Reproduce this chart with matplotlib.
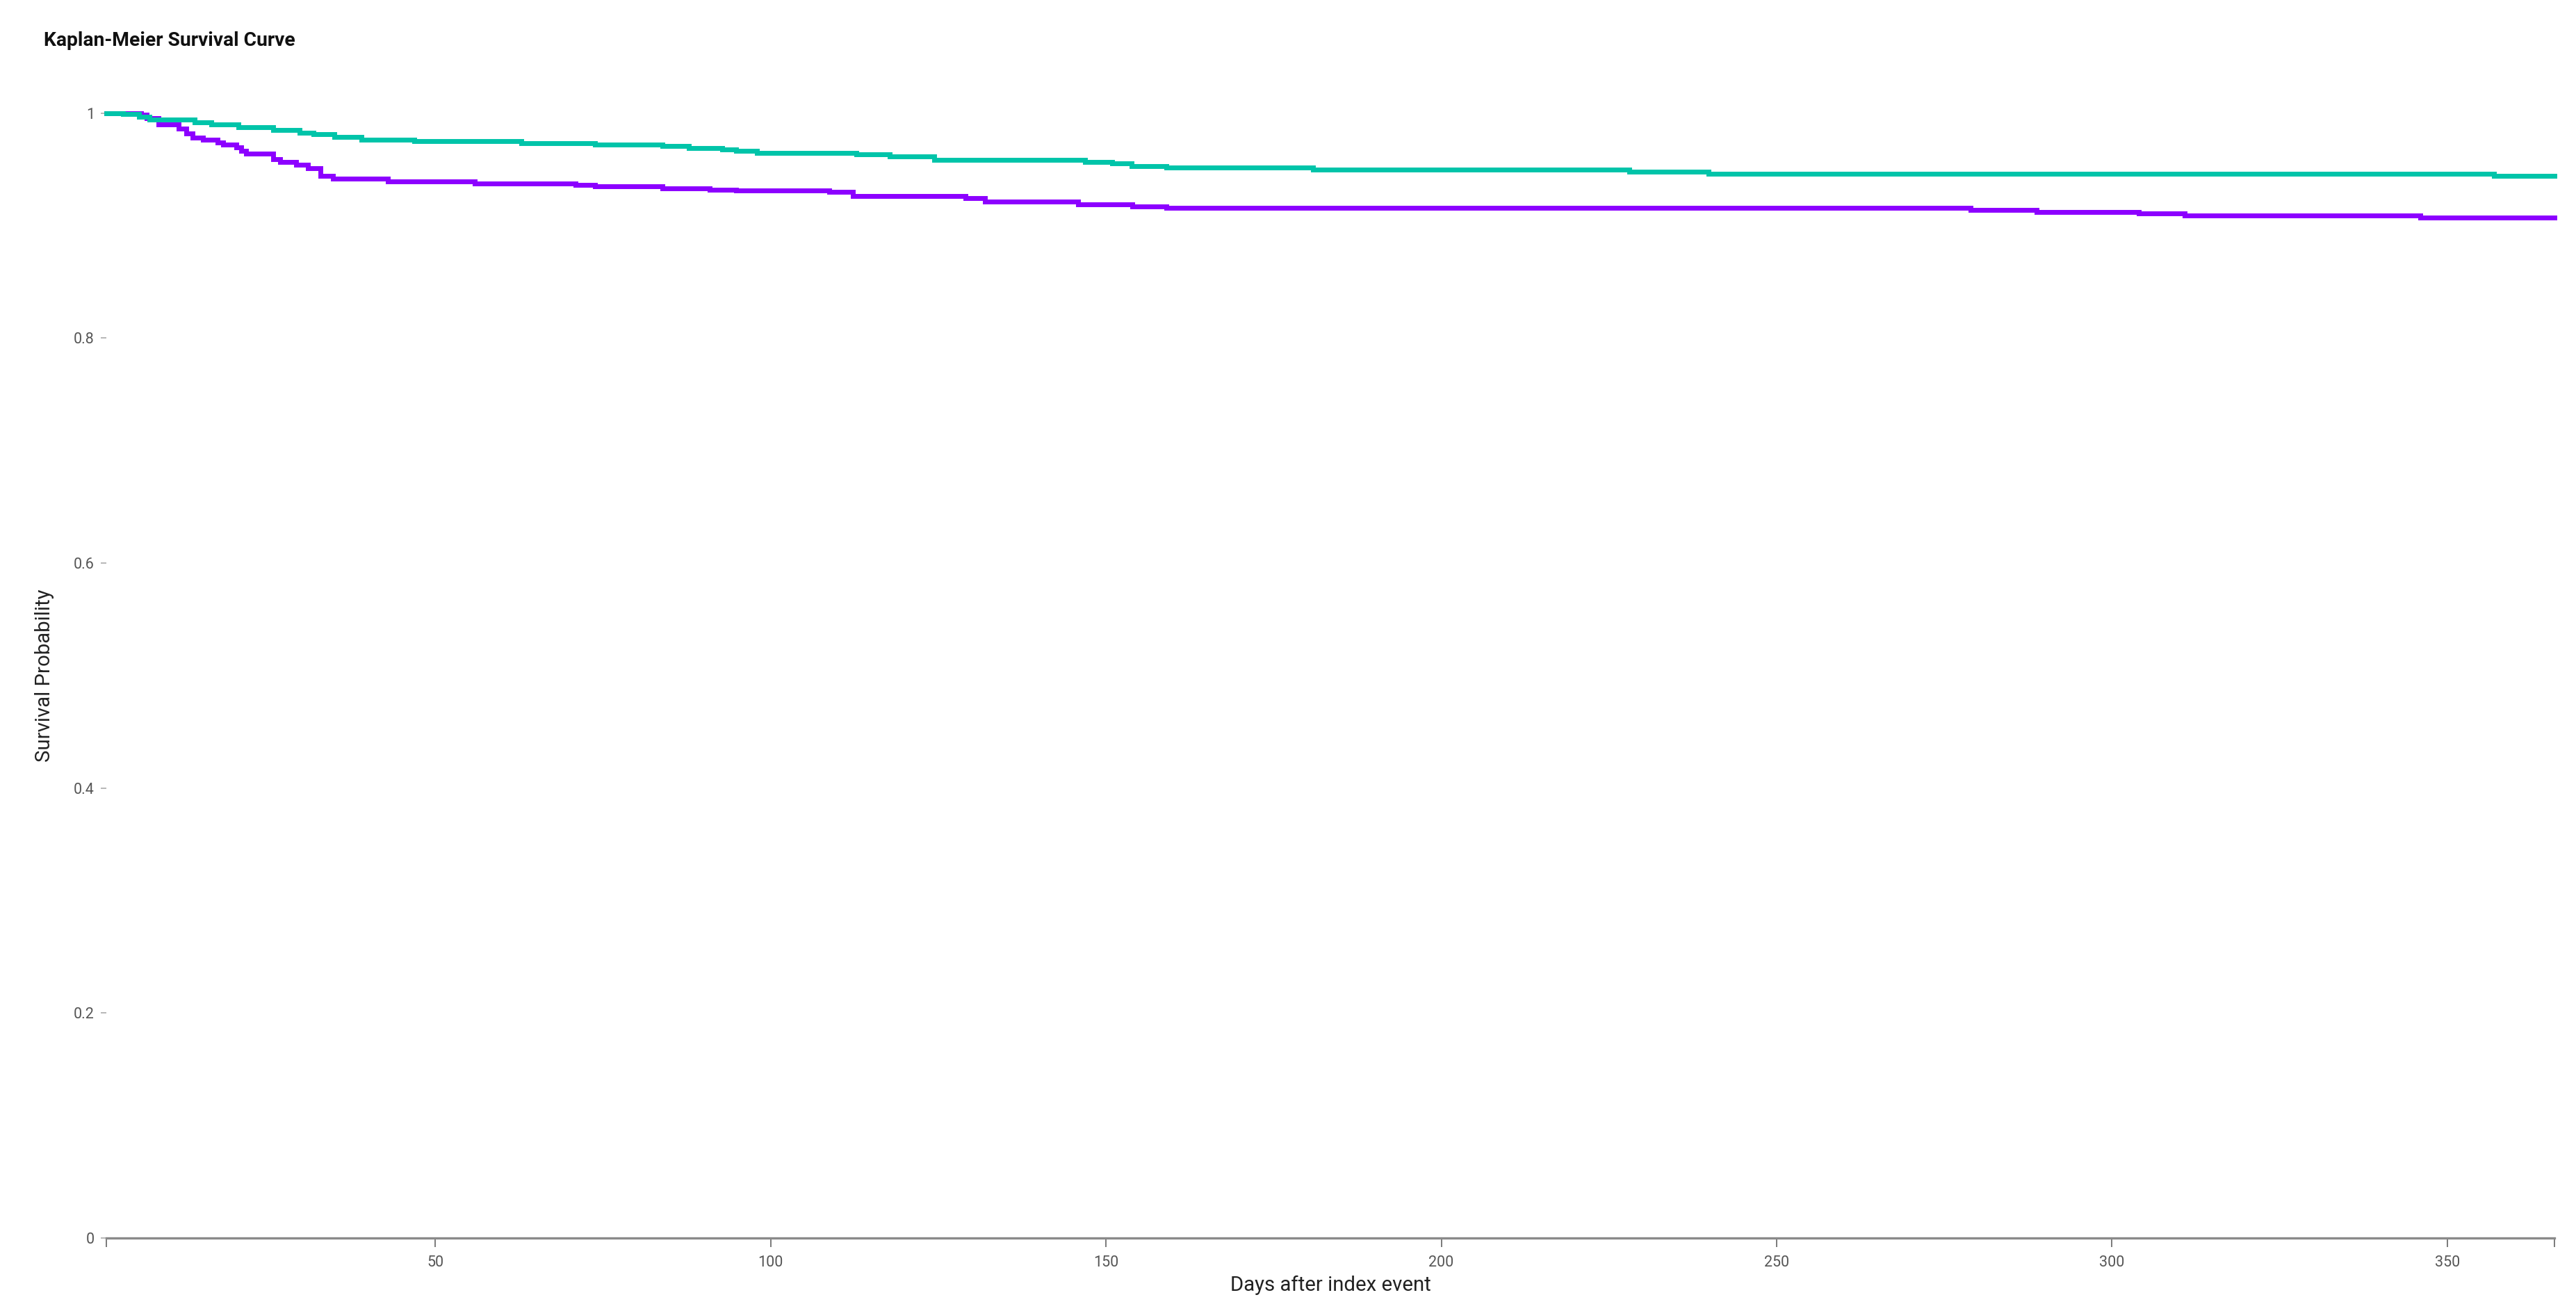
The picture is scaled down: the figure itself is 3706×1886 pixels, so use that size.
import matplotlib
matplotlib.use("Agg")
import matplotlib.pyplot as plt

# ---- data ----
teal_days = [1, 3.5, 5.8, 7.4, 14.1, 16.6, 20.7, 25.8, 29.8, 31.9, 35.0, 39.0, 46.9,
             62.8, 73.8, 83.9, 87.8, 92.8, 94.9, 98.0, 112.8, 117.8, 124.4, 146.9,
             150.9, 153.8, 159.0, 180.9, 228.0, 239.8, 357.0, 366]
teal_surv = [1.0, 0.999, 0.9965, 0.9944, 0.9918, 0.9897, 0.9872, 0.9848, 0.9827, 0.981,
             0.9786, 0.9765, 0.9749, 0.9734, 0.972, 0.9705, 0.9687, 0.9674, 0.9662,
             0.9646, 0.9632, 0.9615, 0.9584, 0.9567, 0.9551, 0.953, 0.9514, 0.9497,
             0.9477, 0.946, 0.944, 0.944]

purple_days = [1, 6.1, 7.0, 8.7, 11.7, 12.9, 13.8, 15.4, 17.5, 18.4, 20.3, 21.1, 21.8,
               25.8, 26.9, 29.3, 31.0, 32.9, 34.8, 42.9, 55.9, 70.9, 73.8, 83.9, 90.9,
               94.9, 108.8, 112.3, 129.1, 132.0, 145.9, 153.9, 159.0, 278.9, 288.8,
               304.0, 310.8, 346.0, 366]
purple_surv = [1.0, 0.9986, 0.9955, 0.9897, 0.9862, 0.9821, 0.978, 0.9763, 0.9738, 0.9718,
               0.9697, 0.9666, 0.9639, 0.9588, 0.9563, 0.9543, 0.9512, 0.944, 0.9419,
               0.9394, 0.9374, 0.9361, 0.9347, 0.9333, 0.932, 0.931, 0.9298, 0.9265,
               0.9245, 0.9214, 0.919, 0.9172, 0.9156, 0.9141, 0.912, 0.9106, 0.909,
               0.9069, 0.9069]

x_domain = [1, 366]
x_ticks = [50, 100, 150, 200, 250, 300, 350]
x_tick_labels = ["50", "100", "150", "200", "250", "300", "350"]
y_ticks = [0, 0.2, 0.4, 0.6, 0.8, 1.0]
y_tick_labels = ["0", "0.2", "0.4", "0.6", "0.8", "1"]

title = "Kaplan-Meier Survival Curve"
x_label = "Days after index event"
y_label = "Survival Probability"

# ---- figure ----
plt.rcParams['font.family'] = ['Roboto', 'DejaVu Sans']
W, H = 3706, 1886
fig = plt.figure(figsize=(W / 100, H / 100), dpi=100)
left, right, top, bottom = 153.3, 3675.3, 162.7, 1780.7
ax = fig.add_axes([left / W, 1 - bottom / H, (right - left) / W, (bottom - top) / H])

ax.step(purple_days, purple_surv, where='post', color='#8c00ff', lw=5,
        clip_on=False, solid_joinstyle='miter', zorder=3)
ax.step(teal_days, teal_surv, where='post', color='#00c4a9', lw=5,
        clip_on=False, solid_joinstyle='miter', zorder=4)

ax.set_xlim(*x_domain)
ax.set_ylim(0, 1)

for s in ['top', 'right', 'left']:
    ax.spines[s].set_visible(False)
ax.spines['bottom'].set_color('#8a8a8a')
ax.spines['bottom'].set_linewidth(2.4)

# outer ticks at both ends of the x domain (unlabelled)
ax.set_xticks(x_domain + x_ticks)
ax.set_xticklabels(["", ""] + x_tick_labels)
ax.set_yticks(y_ticks)
ax.set_yticklabels(y_tick_labels)
ax.tick_params(axis='x', length=9, width=1.3, color='#707070', pad=9,
               labelsize=15.5, labelcolor='#555555')
ax.tick_params(axis='y', length=5.5, width=1.2, color='#aaaaaa', pad=7,
               labelsize=15.5, labelcolor='#555555')

fig.text(63 / W, 1 - 65.7 / H, title, ha='left', va='baseline',
         fontsize=20.3, fontweight='bold', color='#111111')
fig.text((left + right) / 2 / W, 1 - 1856.7 / H, x_label, ha='center', va='baseline',
         fontsize=21.2, color='#222222')
fig.text(64 / W, 1 - ((top + bottom) / 2) / H, y_label, ha='center', va='center',
         rotation=90, fontsize=21.2, color='#222222')

fig.savefig('out.png', dpi=100, facecolor='white')
